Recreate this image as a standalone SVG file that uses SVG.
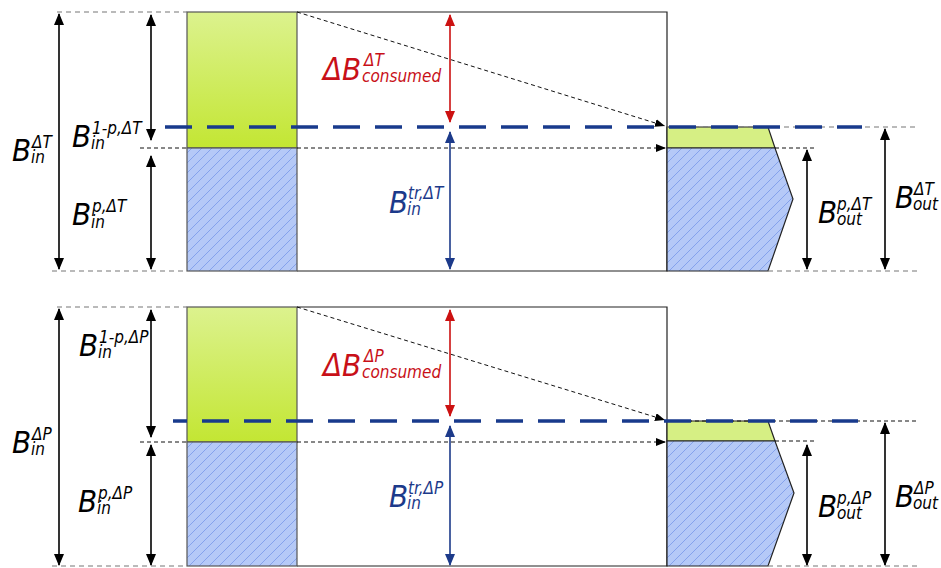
<svg xmlns="http://www.w3.org/2000/svg" width="941" height="568" viewBox="0 0 941 568">
<style>
.t{font-family:'DejaVu Sans Condensed','DejaVu Sans',sans-serif;font-style:italic;font-stretch:condensed;fill:#000}
.big{font-size:31px}
.sm{font-size:17px}
.red{fill:#c81018}
.navy{fill:#1c3a8a}
.frame{fill:none;stroke:#222;stroke-width:1.2}
.col{stroke:#555;stroke-width:1.2}
.shape{stroke:#222;stroke-width:1.2}
.dash{fill:none;stroke:#111;stroke-width:1;stroke-dasharray:4 3}
.gdash{fill:none;stroke:#777;stroke-width:1.2;stroke-dasharray:5 4}
.navyd{fill:none;stroke:#183a8c;stroke-width:3.5;stroke-dasharray:27 15}
.ak{fill:none;stroke:#000;stroke-width:1.6;marker-start:url(#mk);marker-end:url(#mk)}
.ar{fill:none;stroke:#cc1111;stroke-width:1.6;marker-start:url(#mr);marker-end:url(#mr)}
.an{fill:none;stroke:#1c3a8a;stroke-width:1.6;marker-start:url(#mn);marker-end:url(#mn)}
.ad{fill:none;stroke:#111;stroke-width:1;stroke-dasharray:4 3;marker-end:url(#ms)}
</style>
<defs>
<linearGradient id="gGreen" x1="0" y1="0" x2="0" y2="1">
<stop offset="0" stop-color="#dcf28e"/>
<stop offset="1" stop-color="#c3e633"/>
</linearGradient>
<pattern id="hatch" patternUnits="userSpaceOnUse" width="10" height="10">
<rect width="10" height="10" fill="#b5c9f7"/>
<path d="M0,10 L10,0 M-2,2 L2,-2 M8,12 L12,8" stroke="#85a2ec" stroke-width="1"/>
</pattern>
<marker id="mk" viewBox="0 0 12 10" refX="11" refY="5" markerWidth="12" markerHeight="10" markerUnits="userSpaceOnUse" orient="auto-start-reverse"><path d="M0,0 L12,5 L0,10 z" fill="#000"/></marker>
<marker id="mr" viewBox="0 0 12 10" refX="11" refY="5" markerWidth="12" markerHeight="10" markerUnits="userSpaceOnUse" orient="auto-start-reverse"><path d="M0,0 L12,5 L0,10 z" fill="#cc1111"/></marker>
<marker id="mn" viewBox="0 0 12 10" refX="11" refY="5" markerWidth="12" markerHeight="10" markerUnits="userSpaceOnUse" orient="auto-start-reverse"><path d="M0,0 L12,5 L0,10 z" fill="#1c3a8a"/></marker>
<marker id="ms" viewBox="0 0 10 8" refX="10" refY="4" markerWidth="10" markerHeight="8" markerUnits="userSpaceOnUse" orient="auto"><path d="M0,0 L10,4 L0,8 z" fill="#000"/></marker>
</defs>

<!-- TOP PANEL -->
<g id="top-panel">
<g id="top-frame"><path class="frame" d="M297,12 H667 V271 H297"/></g>
<g id="top-input">
<rect class="col" x="187" y="12" width="110" height="136" fill="url(#gGreen)"/>
<rect class="col" x="187" y="148" width="110" height="123" fill="url(#hatch)"/>
</g>
<g id="top-output">
<polygon class="shape" points="667,127 768,127 775,148 667,148" fill="#d6ef84"/>
<polygon class="shape" points="667,148 775,148 793,199 768,271 667,271" fill="url(#hatch)"/>
</g>
<g id="top-connectors">
<path class="gdash" d="M57,12 H187"/>
<path class="gdash" d="M52,271 H187"/>
<path class="gdash" d="M667,127 H917"/>
<path class="gdash" d="M768,271 H917"/>
<path class="dash" d="M140,148 H187"/>
<path class="ad" d="M297,148 H666"/>
<path class="dash" d="M775,148 H817"/>
<path class="ad" d="M297,12 L665,126"/>
<path class="navyd" d="M165,127 H862"/>
<path class="ak" d="M59,14 V269"/>
<path class="ak" d="M151,15 V140"/>
<path class="ak" d="M151,156 V269"/>
<path class="ar" d="M450,15 V122"/>
<path class="an" d="M450,132 V269"/>
<path class="ak" d="M807,150 V269"/>
<path class="ak" d="M885,129 V269"/>
</g>
<g id="top-labels">
<text class="t"><tspan class="big" x="12" y="161">B</tspan><tspan class="sm" x="32" y="148">ΔT</tspan><tspan class="sm" x="31" y="163">in</tspan></text>
<text class="t"><tspan class="big" x="72" y="147">B</tspan><tspan class="sm" x="92" y="134">1-p,ΔT</tspan><tspan class="sm" x="91" y="149">in</tspan></text>
<text class="t"><tspan class="big" x="72" y="225">B</tspan><tspan class="sm" x="92" y="212">p,ΔT</tspan><tspan class="sm" x="91" y="228">in</tspan></text>
<text class="t red"><tspan class="big" x="323" y="80">ΔB</tspan><tspan class="sm" x="364" y="66">ΔT</tspan><tspan class="sm" x="362" y="82">consumed</tspan></text>
<text class="t navy"><tspan class="big" x="389" y="213">B</tspan><tspan class="sm" x="408" y="199">tr,ΔT</tspan><tspan class="sm" x="407" y="215">in</tspan></text>
<text class="t"><tspan class="big" x="818" y="223">B</tspan><tspan class="sm" x="837" y="210">p,ΔT</tspan><tspan class="sm" x="837" y="225">out</tspan></text>
<text class="t"><tspan class="big" x="895" y="208">B</tspan><tspan class="sm" x="914" y="195">ΔT</tspan><tspan class="sm" x="913" y="210">out</tspan></text>
</g>
</g>

<!-- BOTTOM PANEL -->
<g id="bottom-panel">
<g transform="translate(0,295)">
<g id="bottom-frame"><path class="frame" d="M297,12 H667 V271 H297"/></g>
<g id="bottom-input">
<rect class="col" x="187" y="12" width="110" height="135" fill="url(#gGreen)"/>
<rect class="col" x="187" y="147" width="110" height="124" fill="url(#hatch)"/>
</g>
<g id="bottom-output">
<polygon class="shape" points="667,126 768,126 775,146 667,146" fill="#d6ef84"/>
<polygon class="shape" points="667,146 775,146 794,198 768,271 667,271" fill="url(#hatch)"/>
</g>
<g id="bottom-connectors">
<path class="gdash" d="M57,12 H187"/>
<path class="gdash" d="M52,271 H187"/>
<path class="dash" d="M667,126 H917"/>
<path class="gdash" d="M768,271 H917"/>
<path class="dash" d="M140,147 H187"/>
<path class="ad" d="M297,147 H666"/>
<path class="dash" d="M775,146 H817"/>
<path class="ad" d="M297,12 L665,125"/>
<path class="navyd" style="stroke-dashoffset:13" d="M173,126 H858"/>
<path class="ak" d="M59,14 V270"/>
<path class="ak" d="M151,15 V142"/>
<path class="ak" d="M151,150 V270"/>
<path class="ar" d="M450,15 V121"/>
<path class="an" d="M450,131 V270"/>
<path class="ak" d="M807,150 V270"/>
<path class="ak" d="M885,128 V270"/>
</g>
</g>
<g id="bottom-labels">
<text class="t"><tspan class="big" x="12" y="453">B</tspan><tspan class="sm" x="32" y="440">ΔP</tspan><tspan class="sm" x="31" y="455">in</tspan></text>
<text class="t"><tspan class="big" x="79" y="356">B</tspan><tspan class="sm" x="99" y="343">1-p,ΔP</tspan><tspan class="sm" x="98" y="358">in</tspan></text>
<text class="t"><tspan class="big" x="78" y="512">B</tspan><tspan class="sm" x="98" y="499">p,ΔP</tspan><tspan class="sm" x="97" y="514">in</tspan></text>
<text class="t red"><tspan class="big" x="323" y="376">ΔB</tspan><tspan class="sm" x="364" y="362">ΔP</tspan><tspan class="sm" x="362" y="378">consumed</tspan></text>
<text class="t navy"><tspan class="big" x="389" y="507">B</tspan><tspan class="sm" x="408" y="494">tr,ΔP</tspan><tspan class="sm" x="407" y="509">in</tspan></text>
<text class="t"><tspan class="big" x="818" y="517">B</tspan><tspan class="sm" x="837" y="504">p,ΔP</tspan><tspan class="sm" x="837" y="519">out</tspan></text>
<text class="t"><tspan class="big" x="895" y="507">B</tspan><tspan class="sm" x="914" y="494">ΔP</tspan><tspan class="sm" x="913" y="509">out</tspan></text>
</g>
</g>
</svg>
